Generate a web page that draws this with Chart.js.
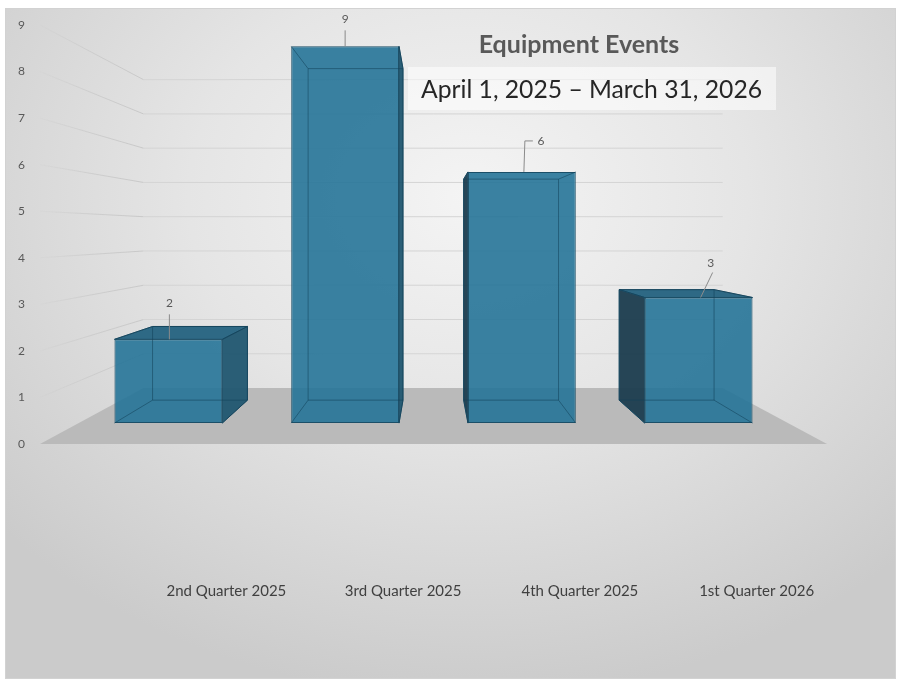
<!DOCTYPE html>
<html>
<head>
<meta charset="utf-8">
<title>Equipment Events</title>
<script src="https://cdn.jsdelivr.net/npm/chart.js@4.4.1/dist/chart.umd.min.js"></script>
<style>
  html, body { margin: 0; padding: 0; background: #fff; }
  #frame {
    position: absolute; left: 5px; top: 8px; width: 889px; height: 669px;
    border: 1px solid #d2d2d2;
    background: radial-gradient(ellipse 70% 75% at 52% 28%, #f4f4f4 0%, #e5e5e5 45%, #cbcbcb 100%);
  }
  #chart { position: absolute; left: 0; top: 0; }
</style>
</head>
<body>
<div id="frame"></div>
<canvas id="chart" width="901" height="682"></canvas>
<script>
const categories = ['2nd Quarter 2025', '3rd Quarter 2025', '4th Quarter 2025', '1st Quarter 2026'];
const events = [2, 9, 6, 3];
const yTicks = [0, 1, 2, 3, 4, 5, 6, 7, 8, 9];
const titleText = 'Equipment Events';
const subtitleText = 'April 1, 2025 – March 31, 2026';

// fake 3d view (pixels)
const vp = {x: 432, y: 232};
const barDepth = 0.88;
const roomDepth = 0.736;
const floorLeft = 40, floorRight = 827;
const labelShift = [[1, -36], [0, -27], [19, -31], [12, -34]];

const toBack = (x, y, k) => ({x: vp.x + (x - vp.x) * k, y: vp.y + (y - vp.y) * k});

function poly(ctx, pts) {
  ctx.beginPath();
  pts.forEach((p, i) => i ? ctx.lineTo(p.x, p.y) : ctx.moveTo(p.x, p.y));
  ctx.closePath();
}

function corners(bar) {
  const l = bar.x - bar.width / 2, r = bar.x + bar.width / 2;
  const f = {tl: {x: l, y: bar.y}, tr: {x: r, y: bar.y}, bl: {x: l, y: bar.base}, br: {x: r, y: bar.base}};
  const b = {};
  for (const k in f) b[k] = toBack(f[k].x, f[k].y, barDepth);
  return {f, b};
}

const room = {
  id: 'room',
  beforeDatasetsDraw(chart) {
    const ctx = chart.ctx, ys = chart.scales.y;
    const y0 = ys.getPixelForValue(0);
    const bl = toBack(floorLeft, y0, roomDepth), br = toBack(floorRight, y0, roomDepth);
    ctx.save();
    ctx.fillStyle = '#bababa';
    poly(ctx, [{x: floorLeft, y: y0}, {x: floorRight, y: y0}, br, bl]);
    ctx.fill();

    ctx.lineWidth = 1;
    yTicks.forEach(v => {
      if (v === 0) return;
      const py = ys.getPixelForValue(v);
      const p = toBack(floorLeft, py, roomDepth);
      const g = ctx.createLinearGradient(floorLeft, 0, p.x, 0);
      g.addColorStop(0, 'rgba(200,200,200,0.1)');
      g.addColorStop(0.5, 'rgba(200,200,200,0.75)');
      g.addColorStop(1, 'rgba(200,200,200,1)');
      ctx.strokeStyle = g;
      ctx.beginPath(); ctx.moveTo(floorLeft, py); ctx.lineTo(p.x, p.y); ctx.stroke();
      ctx.strokeStyle = '#d4d4d4';
      ctx.beginPath(); ctx.moveTo(p.x, p.y); ctx.lineTo(br.x, p.y); ctx.stroke();
    });

    // sides and tops, front face comes from chart.js
    chart.getDatasetMeta(0).data.forEach(bar => {
      const {f, b} = corners(bar);
      ctx.strokeStyle = '#1b4c64';
      if (b.tr.x > f.tr.x) {
        ctx.fillStyle = 'rgba(32,86,112,0.95)';
        poly(ctx, [f.tr, b.tr, b.br, f.br]); ctx.fill(); ctx.stroke();
      }
      if (b.tl.x < f.tl.x) {
        ctx.fillStyle = 'rgba(27,60,78,0.95)';
        poly(ctx, [f.tl, b.tl, b.bl, f.bl]); ctx.fill(); ctx.stroke();
      }
      if (b.tl.y < f.tl.y) {
        ctx.fillStyle = 'rgba(36,98,128,0.95)';
        poly(ctx, [f.tl, f.tr, b.tr, b.tl]); ctx.fill(); ctx.stroke();
      }
    });
    ctx.restore();
  },
  afterDatasetsDraw(chart) {
    const ctx = chart.ctx;
    ctx.save();
    ctx.lineWidth = 1;
    chart.getDatasetMeta(0).data.forEach((bar, i) => {
      const {f, b} = corners(bar);
      // edges seen through the glass
      ctx.strokeStyle = 'rgba(18,66,90,0.55)';
      poly(ctx, [b.tl, b.tr, b.br, b.bl]); ctx.stroke();
      ctx.beginPath();
      ['tl', 'tr', 'bl', 'br'].forEach(k => { ctx.moveTo(f[k].x, f[k].y); ctx.lineTo(b[k].x, b[k].y); });
      ctx.stroke();

      // value label + leader
      const [dx, dy] = labelShift[i];
      const lx = bar.x + dx, ly = bar.y + dy;
      ctx.strokeStyle = '#8a8a8a';
      ctx.beginPath();
      if (dx > 15) {
        ctx.moveTo(lx - 8, ly); ctx.lineTo(bar.x + 3, ly); ctx.lineTo(bar.x + 2, bar.y);
      } else if (dx > 5) {
        ctx.moveTo(lx + 2, ly + 9); ctx.lineTo(bar.x + 2, bar.y);
      } else {
        ctx.moveTo(lx, ly + 11); ctx.lineTo(lx, bar.y);
      }
      ctx.stroke();
      ctx.fillStyle = '#595959';
      ctx.font = '12px Lato';
      ctx.textAlign = 'center';
      ctx.textBaseline = 'middle';
      ctx.fillText(String(events[i]), lx, ly);
    });
    ctx.restore();
  },
  afterDraw(chart) {
    const ctx = chart.ctx;
    ctx.save();
    ctx.fillStyle = '#595959';
    ctx.font = 'bold 25px Lato';
    ctx.textAlign = 'center';
    ctx.textBaseline = 'alphabetic';
    ctx.fillText(titleText, 579, 53);

    ctx.fillStyle = 'rgba(255,255,255,0.55)';
    ctx.fillRect(408, 67, 368, 43);
    ctx.fillStyle = '#262626';
    ctx.font = '24.7px Lato';
    ctx.textAlign = 'left';
    ctx.fillText(subtitleText, 421, 98);
    ctx.restore();
  }
};

new Chart(document.getElementById('chart'), {
  type: 'bar',
  data: {
    labels: categories,
    datasets: [{
      data: events,
      yAxisID: 'yBar',
      backgroundColor: 'rgba(38,116,152,0.9)',
      borderColor: '#1b4f68',
      borderWidth: 1,
      borderSkipped: false,
      barPercentage: 0.61,
      categoryPercentage: 1
    }]
  },
  options: {
    responsive: false,
    animation: false,
    devicePixelRatio: 1,
    layout: {padding: {left: 18, top: 25, right: 114, bottom: 0}},
    plugins: {legend: {display: false}, tooltip: {enabled: false}},
    scales: {
      x: {
        grid: {display: false, drawTicks: false},
        border: {display: false},
        ticks: {padding: 138, labelOffset: 58, maxRotation: 0, color: '#404040', font: {family: 'Lato', size: 15}},
        afterFit(s) { s.height = 238; s.paddingLeft = 0; s.paddingRight = 0; }
      },
      y: {
        min: 0, max: 9,
        grid: {display: false, drawTicks: false},
        border: {display: false},
        afterBuildTicks(s) { s.ticks = yTicks.map(v => ({value: v})); },
        ticks: {crossAlign: 'far', padding: 0, color: '#595959', font: {family: 'Lato', size: 12}},
        afterFit(s) { s.width = 62; }
      },
      yBar: {display: false, min: -0.5, max: 9.51}
    }
  },
  plugins: [room]
});
</script>
</body>
</html>
